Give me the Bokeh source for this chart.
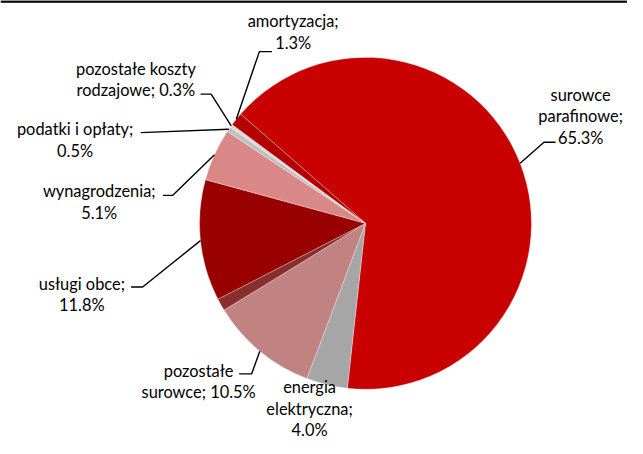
import math
from bokeh.plotting import figure
from bokeh.models import Range1d, ColumnDataSource
from bokeh.embed import file_html
from bokeh.resources import INLINE
from bokeh.core.properties import value

# ---------------- data ----------------
categories = ["surowce parafinowe", "energia elektryczna", "pozostałe surowce", "inne",
              "usługi obce", "wynagrodzenia", "podatki i opłaty",
              "pozostałe koszty rodzajowe", "amortyzacja"]
shares = [65.3, 4.0, 10.5, 1.2, 11.8, 5.1, 0.5, 0.3, 1.3]
colors = ["#C80000", "#A6A6A6", "#C08381", "#882E2E", "#990000",
          "#D98887", "#BFBFBF", "#D9D9D9", "#B30000"]
# label wrapping ("{v}" = percentage); None = no label
label_templates = ["surowce\nparafinowe;\n{v}", "energia\nelektryczna;\n{v}",
                   "pozostałe\nsurowce; {v}", None, "usługi obce;\n{v}",
                   "wynagrodzenia;\n{v}", "podatki i opłaty;\n{v}",
                   "pozostałe koszty\nrodzajowe; {v}", "amortyzacja;\n{v}"]

# ---------------- layout (reference pixel space) ----------------
REF_W, REF_H = 643, 454
W, H = 627, 438
S = H / REF_H
CX, CY, R = 373, 231, 172
FIRST_CW = -48.8          # clockwise degrees from 12 o'clock where first slice starts
LINE_H = 22.5
FONT_PX = 17 * S
# label anchor (center x, first line center y) per slice
label_pos = [(596, 97), (315, 400), (200, 383), None, (79, 293),
             (97, 197), (72, 133), (135, 70), (298, 21)]
# leader line points after the pie edge point
leader_pts = [[(558, 147), (570, 147)], None, [(255, 387), (242, 387)], None,
              [(142, 297), (130, 297)], [(173, 202), (163, 202)],
              [(140, 137)], [(213, 97), (202, 97)], [(263, 53), (276, 53)]]

x0 = CX - (CX - 8) / S
x1 = x0 + W / S


def fy(y):
    return REF_H - y


p = figure(width=W, height=H, x_range=Range1d(x0, x1), y_range=Range1d(0, REF_H),
           output_backend="svg", toolbar_location=None, min_border=0,
           x_axis_location=None, y_axis_location=None)
p.grid.visible = False
p.outline_line_color = None
p.background_fill_color = "white"
p.border_fill_color = "white"

# top rule
p.segment(x0=[x0], y0=[fy(1)], x1=[x1], y1=[fy(1)], line_color="black", line_width=2.5)

total = sum(shares)
starts, ends, mids = [], [], []
cum = 0.0
for v in shares:
    a = FIRST_CW + cum / total * 360.0
    b = FIRST_CW + (cum + v) / total * 360.0
    cum += v
    starts.append(math.radians(90 - a))
    ends.append(math.radians(90 - b))
    mids.append((a + b) / 2)

src = ColumnDataSource(dict(start=starts, end=ends, color=colors, name=categories))
p.wedge(x=CX, y=fy(CY), radius=R, start_angle="start", end_angle="end",
        direction="clock", fill_color="color", line_color="white",
        line_width=0.6, line_alpha=0.5, source=src)

# leader lines
xs, ys = [], []
for i, pts in enumerate(leader_pts):
    if not pts:
        continue
    m = math.radians(mids[i])
    ex = CX + R * math.sin(m)
    ey = CY - R * math.cos(m)
    lx = [ex] + [q[0] for q in pts]
    ly = [fy(ey)] + [fy(q[1]) for q in pts]
    xs.append(lx)
    ys.append(ly)
p.multi_line(xs, ys, line_color="black", line_width=1.4)

# labels
tx, ty, tt = [], [], []
for i, tpl in enumerate(label_templates):
    if tpl is None:
        continue
    txt = tpl.format(v=f"{shares[i]:.1f}%")
    lx, ly = label_pos[i]
    for k, line in enumerate(txt.split("\n")):
        tx.append(lx)
        ty.append(fy(ly + k * LINE_H))
        tt.append(line)
p.text(x=tx, y=ty, text=tt, text_align="center", text_baseline="middle",
       text_font=value("Lato"), text_font_size=f"{FONT_PX:.1f}px", text_color="#000000")

open("out.html", "w").write(file_html(p, INLINE))
